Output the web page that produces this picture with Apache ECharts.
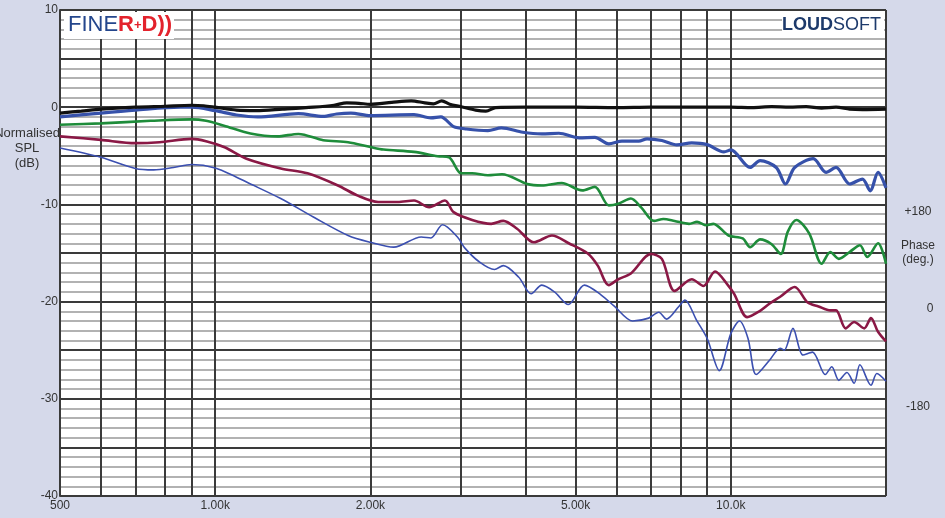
<!DOCTYPE html>
<html>
<head>
<meta charset="utf-8">
<script src="https://cdn.jsdelivr.net/npm/echarts@6/dist/echarts.min.js"></script>
<style>
html,body{margin:0;padding:0;background:#d5d9ea;}
#c{width:945px;height:518px;}
</style>
</head>
<body>
<div id="c"></div>
<script>
// x grid frequencies and labelled ticks
const xGridValues = [500,600,700,800,900,1000,2000,3000,4000,5000,6000,7000,8000,9000,10000,20000];
const xLabelValues = [500,1000,2000,5000,10000];
const xLabelTexts = {500:'500',1000:'1.00k',2000:'2.00k',5000:'5.00k',10000:'10.0k'};
const yLabelValues = [10,0,-10,-20,-30,-40];

// curves: [frequency Hz, SPL dB]
const curveOnAxis = [[500,-0.6],[550,-0.4],[600,-0.2],[700,0],[800,0.1],[900,0.2],[950,0.15],[1000,0],[1100,-0.3],[1200,-0.35],[1350,-0.2],[1550,0],[1700,0.2],[1800,0.45],[1900,0.4],[2000,0.3],[2200,0.5],[2400,0.65],[2550,0.45],[2650,0.35],[2750,0.65],[2850,0.3],[3000,0.05],[3200,-0.3],[3350,-0.4],[3500,-0.05],[4000,0],[5000,0],[6000,-0.05],[7000,0],[8000,0],[9000,0],[10000,0],[11000,-0.05],[12000,0.05],[13000,0],[14000,0.05],[15000,-0.1],[16000,0],[17000,-0.2],[18000,-0.25],[20000,-0.2]];

const curveBlueThick = [[500,-1.0],[600,-0.6],[700,-0.3],[856,0],[900,0],[1000,-0.36],[1100,-0.8],[1208,-1.0],[1450,-0.67],[1620,-0.95],[1720,-0.7],[1833,-0.6],[2000,-0.87],[2430,-0.77],[2620,-1.1],[2740,-1.0],[2900,-2.0],[3070,-2.24],[3380,-2.4],[3590,-2.13],[3950,-2.58],[4300,-2.75],[4640,-2.68],[5080,-3.16],[5450,-3.1],[5800,-3.77],[6150,-3.5],[6630,-3.5],[6880,-3.26],[7350,-3.43],[7860,-3.88],[8400,-3.67],[9000,-3.85],[9700,-4.6],[10000,-4.4],[10900,-6.2],[11400,-5.5],[12250,-6.2],[12770,-7.9],[13300,-6.2],[14450,-5.3],[15300,-6.7],[16000,-6.2],[17000,-7.9],[18000,-7.4],[18640,-8.6],[19300,-6.7],[20000,-8.3]];

const curveGreen = [[500,-1.8],[600,-1.66],[750,-1.4],[900,-1.25],[960,-1.4],[1040,-1.9],[1170,-2.7],[1320,-3.0],[1450,-2.75],[1620,-3.4],[1810,-3.6],[2000,-4.1],[2120,-4.36],[2430,-4.6],[2700,-5.05],[2840,-5.15],[3000,-6.8],[3150,-6.8],[3380,-7.0],[3600,-6.9],[4030,-7.9],[4300,-8.05],[4700,-7.8],[5150,-8.56],[5450,-8.2],[5800,-10.1],[6050,-9.93],[6400,-9.4],[6700,-10.3],[7100,-11.7],[7400,-11.5],[7780,-11.7],[8300,-12.0],[8600,-11.8],[8970,-12.15],[9250,-12.0],[9900,-13.2],[10550,-13.5],[10900,-14.4],[11400,-13.6],[12000,-14.1],[12500,-15.1],[12900,-12.8],[13400,-11.6],[14200,-13.0],[15000,-16.1],[15600,-14.9],[16200,-15.6],[17000,-14.9],[17800,-14.2],[18400,-15.4],[19300,-14.0],[20000,-16.1]];

const curveMaroon = [[500,-3.0],[600,-3.36],[700,-3.7],[780,-3.6],[900,-3.26],[960,-3.5],[1040,-4.1],[1150,-5.3],[1340,-6.3],[1510,-6.8],[1730,-8.05],[1890,-9.1],[2070,-9.76],[2260,-9.76],[2430,-9.6],[2600,-10.3],[2790,-9.6],[2900,-10.8],[3150,-11.6],[3430,-12.0],[3620,-11.7],[3850,-12.5],[4150,-13.9],[4500,-13.2],[4850,-14.0],[5280,-15.06],[5520,-16.3],[5800,-18.3],[6050,-17.7],[6400,-17.1],[7000,-15.1],[7350,-15.6],[7780,-18.9],[8400,-17.7],[8850,-18.4],[9320,-16.9],[9870,-18.3],[10150,-19.2],[10760,-21.6],[11360,-21.0],[11900,-20.2],[12470,-19.5],[13300,-18.5],[14100,-20.1],[14800,-20.5],[15600,-20.9],[16000,-20.9],[16700,-22.75],[17350,-22.1],[18150,-22.75],[18700,-21.7],[19300,-23.1],[20000,-24.1]];

const curveBlueThin = [[500,-4.2],[600,-5.15],[700,-6.3],[760,-6.45],[830,-6.2],[900,-5.9],[1000,-6.25],[1100,-7.2],[1150,-7.7],[1340,-9.4],[1550,-11.3],[1810,-13.2],[2000,-13.9],[2220,-14.4],[2510,-13.35],[2620,-13.45],[2760,-12.1],[2950,-13.35],[3050,-14.5],[3250,-15.9],[3480,-16.7],[3620,-16.3],[3880,-17.5],[4100,-19.2],[4300,-18.3],[4550,-19.0],[4840,-20.3],[5200,-18.3],[5600,-19.3],[5950,-20.5],[6450,-22.0],[6930,-21.7],[7250,-21.1],[7500,-21.8],[7930,-20.5],[8150,-19.85],[8580,-21.9],[9000,-23.8],[9500,-27.1],[10000,-23.3],[10400,-22.0],[10800,-23.8],[11200,-27.5],[11900,-26.0],[12470,-24.8],[12700,-25.0],[13200,-22.75],[13800,-25.5],[14400,-25.2],[15250,-27.5],[15700,-26.7],[16200,-28.1],[16800,-27.3],[17350,-28.4],[17800,-26.5],[18700,-28.6],[19200,-27.4],[20000,-28.2]];

const chart = echarts.init(document.getElementById('c'), null, {renderer:'canvas'});
const dark = '#3a3a3a';
const minorGray = '#b2b2b2';
const font = 'Liberation Sans, Arial, sans-serif';

function mk(name, data, color, width, z) {
  return {name, type:'line', data, showSymbol:false, smooth:0.3, z,
    lineStyle:{color, width}, itemStyle:{color}, animation:false};
}

chart.setOption({
  backgroundColor:'#d5d9ea',
  animation:false,
  grid:{left:60,right:59,top:10,bottom:22,show:true,backgroundColor:'#ffffff',borderWidth:0},
  xAxis:{
    type:'log', logBase:10, min:500, max:20000,
    axisLine:{show:true,lineStyle:{color:dark,width:2}},
    axisTick:{show:false, customValues:xGridValues},
    splitLine:{show:true,lineStyle:{color:dark,width:2}},
    axisLabel:{customValues:xLabelValues, formatter:v=>xLabelTexts[v]||'', color:'#333', fontSize:12, fontFamily:font, margin:4}
  },
  yAxis:{
    type:'value', min:-40, max:10, interval:5,
    axisLine:{show:true,lineStyle:{color:dark,width:2}},
    axisTick:{show:false},
    splitLine:{show:true,lineStyle:{color:dark,width:2}},
    minorTick:{show:false,splitNumber:5},
    minorSplitLine:{show:true,lineStyle:{color:minorGray,width:2}},
    axisLabel:{formatter:v=>(yLabelValues.indexOf(v)>=0?String(v):''), color:'#333', fontSize:12, fontFamily:font, margin:2}
  },
  graphic:[
    {type:'text', z:-1, style:{x:27, y:126, text:'Normalised\nSPL\n(dB)', textAlign:'center', fill:'#333', font:'13px '+font, lineHeight:15}},
    {type:'text', style:{x:918, y:206, text:'+180', textAlign:'center', fill:'#333', font:'12px '+font}},
    {type:'text', style:{x:918, y:239, text:'Phase\n(deg.)', textAlign:'center', fill:'#333', font:'12px '+font, lineHeight:14}},
    {type:'text', style:{x:930, y:303, text:'0', textAlign:'center', fill:'#333', font:'12px '+font}},
    {type:'text', style:{x:918, y:401, text:'-180', textAlign:'center', fill:'#333', font:'12px '+font}},
    {type:'rect', shape:{x:64,y:12,width:110,height:27}, style:{fill:'#fff'}, z:5},
    {type:'text', z:6, style:{x:68, y:14, text:'{a|FINE}{b|R}{c|+}{b|D))}',
      rich:{a:{fontSize:22,fontFamily:font,fill:'#24468c',color:'#24468c'},
            b:{fontSize:22,fontFamily:font,fontWeight:'bold',fill:'#e3222c',color:'#e3222c'},
            c:{fontSize:13,fontFamily:font,fontWeight:'bold',fill:'#e3222c',color:'#e3222c'}}}},
    {type:'rect', shape:{x:782,y:13,width:102,height:25}, style:{fill:'#fff'}, z:5},
    {type:'text', z:6, style:{x:881, y:16, textAlign:'right', text:'{a|LOUD}{b|SOFT}',
      rich:{a:{fontSize:18,fontFamily:font,fontWeight:'bold',fill:'#1d3a6b',color:'#1d3a6b'},
            b:{fontSize:18,fontFamily:font,fill:'#1d3a6b',color:'#1d3a6b'}}}}
  ],
  series:[
    mk('-60', curveBlueThin, '#3b4fb0', 1.6, 3),
    mk('-45', curveMaroon, '#8a1845', 2.6, 4),
    mk('-30', curveGreen, '#1e8c3a', 2.6, 5),
    mk('-15', curveBlueThick, '#3651aa', 3.2, 6),
    mk('0', curveOnAxis, '#111111', 3.2, 7)
  ]
});
</script>
</body>
</html>
